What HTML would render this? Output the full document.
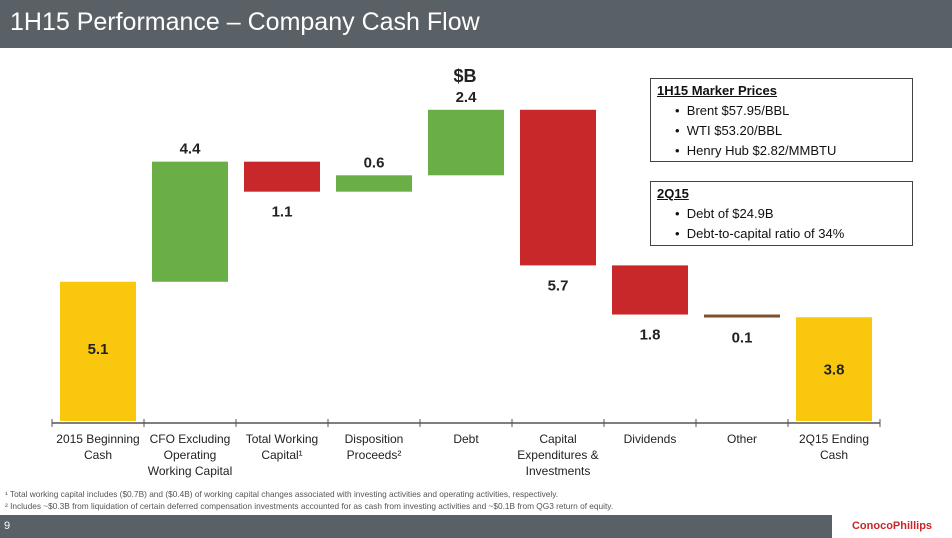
<!DOCTYPE html>
<html><head><meta charset="utf-8"><style>
body{margin:0;width:952px;height:538px;overflow:hidden;background:#fff;font-family:"Liberation Sans",sans-serif;position:relative}
.title{position:absolute;left:0;top:0;width:952px;height:48px;background:#596066;color:#fff;font-size:25px;line-height:44px;padding-left:10px;box-sizing:border-box}
.box{position:absolute;left:650px;width:263px;border:1.5px solid #444;box-sizing:border-box;font-size:13px;color:#111;padding:2px 0 0 6px;line-height:20px}
.box b{text-decoration:underline}
.box div{padding-left:18px}
.foot{position:absolute;left:5px;font-size:8.3px;color:#555}
.bottom{position:absolute;left:0;top:515px;width:952px;height:23px;background:#596066;color:#fff;font-size:11px;line-height:23px;padding-left:4px;box-sizing:border-box}
.logo{position:absolute;right:0;top:515px;width:120px;height:23px;background:#fff;color:#c8282a;font-size:11px;font-weight:bold;line-height:23px;text-align:center}
</style></head><body>
<div class="title">1H15 Performance – Company Cash Flow</div>
<svg id="chart" width="952" height="538" style="position:absolute;left:0;top:0"></svg>
<div class="box" style="top:78px;height:84px"><b>1H15 Marker Prices</b><div>•&nbsp; Brent $57.95/BBL</div><div>•&nbsp; WTI $53.20/BBL</div><div>•&nbsp; Henry Hub $2.82/MMBTU</div></div>
<div class="box" style="top:181px;height:65px"><b>2Q15</b><div>•&nbsp; Debt of $24.9B</div><div>•&nbsp; Debt-to-capital ratio of 34%</div></div>
<div class="foot" style="top:489px">¹ Total working capital includes ($0.7B) and ($0.4B) of working capital changes associated with investing activities and operating activities, respectively.</div>
<div class="foot" style="top:501px">² Includes ~$0.3B from liquidation of certain deferred compensation investments accounted for as cash from investing activities and ~$0.1B from QG3 return of equity.</div>
<div class="bottom">9</div>
<div class="logo">ConocoPhillips</div>
<script>
const categories=[["2015 Beginning","Cash"],["CFO Excluding","Operating","Working Capital"],["Total Working","Capital¹"],["Disposition","Proceeds²"],["Debt"],["Capital","Expenditures &","Investments"],["Dividends"],["Other"],["2Q15 Ending","Cash"]];
const values=[5.1,4.4,-1.1,0.6,2.4,-5.7,-1.8,-0.1,3.8];
const kinds=["total","delta","delta","delta","delta","delta","delta","delta","total"];
const labels=["5.1","4.4","1.1","0.6","2.4","5.7","1.8","0.1","3.8"];
const svg=document.getElementById('chart');const NS="http://www.w3.org/2000/svg";
const base=421,k=27.3,x0=52,step=92,bw=76;
const y=v=>base-v*k;const xc=i=>x0+step*i+step/2;
function el(t,a){const e=document.createElementNS(NS,t);for(const n in a)e.setAttribute(n,a[n]);svg.appendChild(e);return e;}
let cum=0;
values.forEach((v,i)=>{
 let lo,hi,col;
 if(kinds[i]==="total"){lo=0;hi=v;cum=v;col="#f9c80e";}
 else{const s=cum;cum+=v;lo=Math.min(s,cum);hi=Math.max(s,cum);col=v>=0?"#6aae46":(Math.abs(v)<0.3?"#7a5230":"#c8282a");}
 const h=Math.max(3,(hi-lo)*k);
 const r=el('rect',{x:xc(i)-bw/2,y:y(hi),width:bw,height:h,fill:col});
 
 
 let ly;
 if(kinds[i]==="total")ly=y(hi)+(i===0?72:57);else if(v>=0)ly=y(hi)-8;else ly=y(lo)+h*0+25;
 const t=el('text',{x:xc(i),y:ly,'text-anchor':'middle','font-size':15,'font-weight':'bold',fill:'#222'});t.textContent=labels[i];
 
 
 categories[i].forEach((l,j)=>{const c=el('text',{x:xc(i),y:443+j*16,'text-anchor':'middle','font-size':12,fill:'#222'});c.textContent=l;
  
  });
});
const ax=el('line',{x1:x0,y1:423,x2:x0+step*9,y2:423,stroke:'#555','stroke-width':1.5});


for(let i=0;i<=9;i++){const tk=el('line',{x1:x0+step*i,y1:419,x2:x0+step*i,y2:427,stroke:'#555'});
 
 }
const u=el('text',{x:465,y:82,'text-anchor':'middle','font-size':18,'font-weight':'bold',fill:'#222'});u.textContent='$B';


</script>
</body></html>
